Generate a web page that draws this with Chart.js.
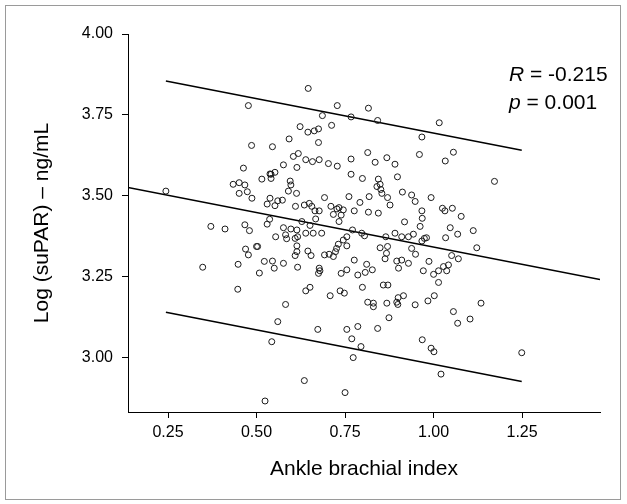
<!DOCTYPE html>
<html>
<head>
<meta charset="utf-8">
<script src="https://cdn.jsdelivr.net/npm/chart.js@4.4.1/dist/chart.umd.min.js"></script>
<style>
    html, body { margin: 0; padding: 0; background: #fff; }
    #wrap { position: relative; width: 627px; height: 504px; }
    #frame { position: absolute; left: 5px; top: 5px; width: 614px; height: 493px; border: 1px solid #9a9a9a; pointer-events: none; }
</style>
</head>
<body>
<div id="wrap">
    <canvas id="scatterChart" width="627" height="504"></canvas>
    <div id="frame"></div>
</div>
<script>
// Ankle brachial index vs Log (suPAR)
const abiValues = [
    0.477, 0.486, 0.463, 0.515, 0.538, 0.434, 0.451, 0.467, 0.244,
    0.646, 0.728, 0.816, 0.686, 0.767, 0.623, 0.645, 0.663, 0.675, 0.712, 0.592, 0.545, 0.675, 0.814,
    0.604, 0.618, 0.639, 0.658, 0.677, 0.703, 0.728, 0.767, 0.576, 0.614, 0.552, 0.541, 0.541, 0.767,
    0.799, 0.595, 0.597,
    0.842, 1.016, 0.967, 0.835, 0.868, 0.891, 0.960, 1.056, 1.033, 0.898, 0.844, 0.849, 0.840,
    1.172,
    0.451, 0.474, 0.487, 0.538, 0.530, 0.371, 0.411, 0.467, 0.480, 0.530, 0.469, 0.477, 0.500, 0.503,
    0.348, 0.448, 0.522, 0.508, 0.447,
    0.590, 0.613, 0.560, 0.573, 0.552, 0.610, 0.635, 0.649, 0.656, 0.665, 0.677, 0.692, 0.710, 0.727,
    0.733, 0.745, 0.761, 0.792, 0.776, 0.818, 0.816, 0.717, 0.739, 0.733, 0.667, 0.628, 0.651, 0.537,
    0.576, 0.597, 0.614, 0.616, 0.609, 0.582, 0.585, 0.554, 0.639, 0.660, 0.684, 0.771, 0.797, 0.805,
    0.755, 0.745, 0.731, 0.726, 0.723, 0.755, 0.717, 0.705, 0.692, 0.614, 0.614, 0.609, 0.645, 0.654,
    0.545, 0.550, 0.576, 0.616, 0.677, 0.679, 0.675, 0.739, 0.755, 0.776, 0.786, 0.807, 0.811, 0.651,
    0.639, 0.708, 0.736, 0.748, 0.799,
    0.854, 0.851, 0.870, 0.912, 0.938, 0.948, 0.993, 0.877, 0.844, 0.967, 0.968, 1.025, 1.032, 1.053,
    1.078, 0.918, 0.962, 1.047, 1.068, 1.034, 0.865, 0.891, 0.910, 0.929, 0.943, 0.967, 0.974, 0.980,
    0.849, 0.870, 0.867, 0.863, 0.938, 0.949, 0.896, 0.910, 0.901, 0.929, 0.827, 0.987, 0.971, 1.000,
    1.014, 1.028, 1.042, 1.051, 1.070, 1.037, 1.014, 0.858, 0.871, 0.915, 0.900, 1.002,
    1.112, 1.122,
    0.524, 0.582, 0.814, 0.560, 0.543, 0.673, 0.755, 0.786, 0.769, 0.795, 0.773, 0.635, 0.750,
    0.830, 0.830, 0.868, 0.896, 0.899, 0.948, 0.984, 0.874, 0.842, 1.056, 1.068, 1.103, 0.968, 0.993,
    1.001, 1.021,
    1.134, 1.249
];
const suparValues = [
    3.779, 3.656, 3.586, 3.552, 3.568, 3.536, 3.541, 3.534, 3.515,
    3.832, 3.779, 3.771, 3.748, 3.744, 3.714, 3.697, 3.701, 3.707, 3.718, 3.676, 3.652, 3.665, 3.634,
    3.622, 3.631, 3.612, 3.606, 3.612, 3.600, 3.592, 3.614, 3.596, 3.588, 3.573, 3.567, 3.554, 3.567,
    3.554, 3.546, 3.534,
    3.733, 3.726, 3.682, 3.604, 3.618, 3.598, 3.628, 3.635, 3.608, 3.559, 3.552, 3.536, 3.529,
    3.545,
    3.508, 3.513, 3.493, 3.493, 3.475, 3.406, 3.398, 3.411, 3.393, 3.413, 3.336, 3.318, 3.344, 3.344,
    3.280, 3.289, 3.298, 3.262, 3.212,
    3.515, 3.508, 3.485, 3.487, 3.470, 3.468, 3.472, 3.477, 3.468, 3.454, 3.454, 3.495, 3.468, 3.460,
    3.464, 3.457, 3.498, 3.480, 3.454, 3.498, 3.450, 3.443, 3.441, 3.421, 3.429, 3.421, 3.409, 3.428,
    3.402, 3.398, 3.395, 3.374, 3.369, 3.380, 3.368, 3.374, 3.385, 3.385, 3.385, 3.395, 3.385, 3.377,
    3.374, 3.364, 3.351, 3.338, 3.328, 3.346, 3.313, 3.320, 3.318, 3.346, 3.328, 3.316, 3.330, 3.316,
    3.299, 3.277, 3.292, 3.280, 3.277, 3.269, 3.261, 3.261, 3.272, 3.302, 3.256, 3.264, 3.289, 3.218,
    3.207, 3.192, 3.207, 3.200, 3.218,
    3.508, 3.520, 3.495, 3.512, 3.503, 3.483, 3.495, 3.472, 3.447, 3.454, 3.431, 3.462, 3.454, 3.462,
    3.437, 3.420, 3.406, 3.402, 3.382, 3.371, 3.374, 3.385, 3.374, 3.374, 3.382, 3.361, 3.369, 3.371,
    3.340, 3.344, 3.323, 3.306, 3.338, 3.320, 3.299, 3.302, 3.277, 3.292, 3.272, 3.298, 3.269, 3.258,
    3.269, 3.282, 3.287, 3.316, 3.306, 3.269, 3.233, 3.225, 3.225, 3.192, 3.186, 3.192,
    3.393, 3.340,
    2.867, 3.165, 3.172, 3.112, 3.050, 3.088, 3.088, 3.097, 3.059, 3.035, 3.001, 2.930, 2.893,
    3.169, 3.158, 3.169, 3.172, 3.165, 3.164, 3.176, 3.124, 3.091, 3.143, 3.107, 3.120, 3.056, 3.030,
    3.019, 2.950,
    3.169, 3.016
];

// Fit line and prediction band
const fitIntercept = 3.555;
const fitSlope = -0.213;
const bandUpper = 0.352;
const bandLower = -0.362;

const xTicks = [0.25, 0.50, 0.75, 1.00, 1.25];
const yTicks = [3.00, 3.25, 3.50, 3.75, 4.00];
const xRange = [0.137, 1.470];
const yRange = [2.833, 4.00];

const rValue = '-0.215';
const pValue = '0.001';

const FONT = "'Liberation Sans', Arial, sans-serif";

const points = abiValues.map((x, i) => ({ x: x, y: suparValues[i] }));
const xMin = Math.min(...abiValues);
const xMax = Math.max(...abiValues);
const fitAt = (x, off) => fitIntercept + fitSlope * x + off;

const fitLine = [xRange[0], xRange[1]].map(x => ({ x: x, y: fitAt(x, 0) }));
const upperLine = [xMin, xMax].map(x => ({ x: x, y: fitAt(x, bandUpper) }));
const lowerLine = [xMin, xMax].map(x => ({ x: x, y: fitAt(x, bandLower) }));

function lineSet(data) {
    return {
        type: 'line',
        data: data,
        borderColor: '#000',
        borderWidth: 1.5,
        pointRadius: 0,
        fill: false
    };
}

// R and p text at the top right
const statsLabel = {
    id: 'statsLabel',
    afterDraw(chart) {
        const ctx = chart.ctx;
        const rows = [['R', ' = ' + rValue, 81], ['p', ' = ' + pValue, 109]];
        ctx.save();
        ctx.fillStyle = '#000';
        ctx.textBaseline = 'alphabetic';
        rows.forEach(function(row) {
            let x = 509;
            ctx.font = 'italic 21px ' + FONT;
            ctx.fillText(row[0], x, row[2]);
            x += ctx.measureText(row[0]).width;
            ctx.font = '21px ' + FONT;
            ctx.fillText(row[1], x, row[2]);
        });
        ctx.restore();
    }
};

const axisGrid = {
    display: true,
    drawOnChartArea: false,
    drawTicks: true,
    tickLength: 6,
    color: '#000',
    lineWidth: 1
};

new Chart(document.getElementById('scatterChart'), {
    type: 'scatter',
    data: {
        datasets: [{
            data: points,
            borderColor: '#1a1a1a',
            backgroundColor: 'rgba(0,0,0,0)',
            borderWidth: 1,
            pointRadius: 3,
            pointHoverRadius: 3
        }, lineSet(fitLine), lineSet(upperLine), lineSet(lowerLine)]
    },
    options: {
        responsive: false,
        animation: false,
        layout: {
            padding: { left: 0, top: 34, right: 27, bottom: 22 }
        },
        plugins: {
            legend: { display: false },
            tooltip: { enabled: false }
        },
        scales: {
            x: {
                type: 'linear',
                min: xRange[0],
                max: xRange[1],
                afterBuildTicks: function(scale) {
                    scale.ticks = xTicks.map(v => ({ value: v }));
                },
                afterFit: function(scale) {
                    scale.height = 70;
                },
                grid: axisGrid,
                border: { display: true, color: '#000', width: 1 },
                ticks: {
                    color: '#000',
                    padding: 5,
                    maxRotation: 0,
                    font: { family: FONT, size: 16 },
                    callback: v => v.toFixed(2)
                },
                title: {
                    display: true,
                    text: 'Ankle brachial index',
                    color: '#000',
                    font: { family: FONT, size: 21 },
                    padding: { top: 0, bottom: 0 }
                }
            },
            y: {
                type: 'linear',
                min: yRange[0],
                max: yRange[1],
                afterBuildTicks: function(scale) {
                    scale.ticks = yTicks.map(v => ({ value: v }));
                },
                afterFit: function(scale) {
                    scale.width = 128;
                },
                grid: axisGrid,
                border: { display: true, color: '#000', width: 1 },
                ticks: {
                    color: '#000',
                    padding: 9,
                    font: { family: FONT, size: 16 },
                    callback: v => v.toFixed(2)
                },
                title: {
                    display: true,
                    text: 'Log (suPAR) – ng/mL',
                    color: '#000',
                    font: { family: FONT, size: 21 },
                    padding: { top: 30, bottom: 0 }
                }
            }
        }
    },
    plugins: [statsLabel]
});
</script>
</body>
</html>
